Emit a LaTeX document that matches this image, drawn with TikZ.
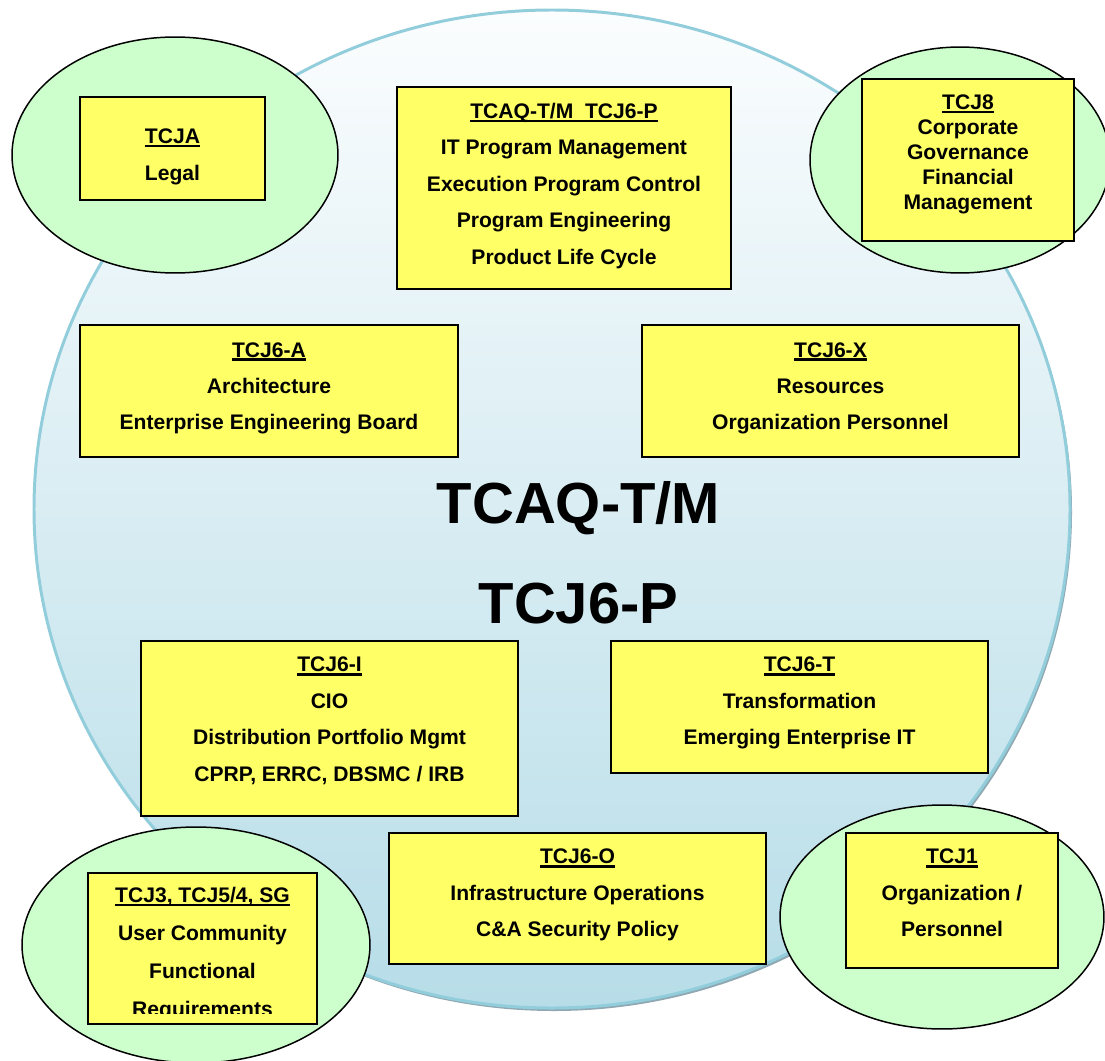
\documentclass[tikz,border=0pt]{standalone}
\usepackage{fontspec}
\setmainfont{Liberation Sans}
\usetikzlibrary{
  shapes.geometric,
  positioning
}
\definecolor{boxyellow}{HTML}{FFFF66}
\definecolor{bubblegreen}{HTML}{CCFFCC}
\definecolor{hubedge}{HTML}{92CDDC}
\definecolor{hubtop}{HTML}{FBFDFE}
\definecolor{hubbottom}{HTML}{B7DDE8}
\definecolor{hubshadow}{HTML}{8FA8B2}
\newsavebox{\titlebox}
\newcommand{\unittitle}[1]{%
  \sbox{\titlebox}{#1}%
  \rlap{\rule[-2.1pt]{\wd\titlebox}{1.4pt}}\usebox{\titlebox}}
\tikzset{
  hub/.style={
    top color=hubtop,
    bottom color=hubbottom,
    draw=hubedge,
    line width=1.7pt
  },
  hub label/.style={
    anchor=base,
    font=\bfseries\fontsize{33}{40}\selectfont
  },
  office bubble/.style={
    ellipse, draw, line width=0.85pt,
    fill=bubblegreen, inner sep=0pt
  },
  unit box/.style={
    draw, line width=1.1pt,
    fill=boxyellow, inner sep=0pt
  },
  unit text/.style={
    align=center, inner sep=0pt,
    font=\bfseries\fontsize{12}{20.7}\selectfont
  }
}

\begin{document}
\begin{tikzpicture}[x=0.02cm, y=-0.02cm]
\useasboundingbox (0,0) rectangle (1105,1061);

% the hub
\fill[hubshadow] (554,512) ellipse [x radius=518, y radius=499];
\shade[hub] (552,509) ellipse [x radius=518, y radius=499];
\node[hub label] (hubname) at (578.5,523) {TCAQ-T/M};
\node[hub label] (hubcode) at (578.5,623) {TCJ6-P};

% outside offices
\node[office bubble, minimum width=6.52cm, minimum height=4.72cm] (legalbubble) at (175,155) {};
\node[office bubble, minimum width=6cm, minimum height=4.52cm] (governbubble) at (960,160) {};
\node[office bubble, minimum width=6.96cm, minimum height=4.72cm] (userbubble) at (196,945) {};
\node[office bubble, minimum width=6.48cm, minimum height=4.48cm] (personbubble) at (942,917) {};

% units
\node[unit box, minimum width=3.7cm, minimum height=2.06cm] (tcja) at (172.5,148.5) {};
\node[unit text, below=18.6pt of tcja.north] (tcjalines) {\unittitle{TCJA}\\Legal};

\node[unit box, minimum width=6.68cm, minimum height=4.04cm] (tcaq) at (564,188) {};
\node[unit text, below=9.6pt of tcaq.north] (tcaqlines)
  {\unittitle{TCAQ-T/M\ \ TCJ6-P}\\IT Program Management\\Execution Program Control\\
   Program Engineering\\Product Life Cycle};

\node[unit box, minimum width=4.24cm, minimum height=3.24cm] (tcj8) at (968,160) {};
\node[unit text, below=9.2pt of tcj8.north, font=\bfseries\fontsize{12}{14.2}\selectfont] (tcj8lines)
  {\unittitle{TCJ8}\\Corporate\\Governance\\Financial\\Management};

\node[unit box, minimum width=7.56cm, minimum height=2.64cm] (tcj6a) at (269,391) {};
\node[unit text, below=10.2pt of tcj6a.north] (tcj6alines)
  {\unittitle{TCJ6-A}\\Architecture\\Enterprise Engineering Board};

\node[unit box, minimum width=7.54cm, minimum height=2.64cm] (tcj6x) at (830.5,391) {};
\node[unit text, below=10.2pt of tcj6x.north] (tcj6xlines)
  {\unittitle{TCJ6-X}\\Resources\\Organization Personnel};

\node[unit box, minimum width=7.54cm, minimum height=3.5cm] (tcj6i) at (329.5,728.5) {};
\node[unit text, below=9.6pt of tcj6i.north] (tcj6ilines)
  {\unittitle{TCJ6-I}\\CIO\\Distribution Portfolio Mgmt\\CPRP, ERRC, DBSMC / IRB};

\node[unit box, minimum width=7.54cm, minimum height=2.64cm] (tcj6t) at (799.5,707) {};
\node[unit text, below=9.6pt of tcj6t.north] (tcj6tlines)
  {\unittitle{TCJ6-T}\\Transformation\\Emerging Enterprise IT};

\node[unit box, minimum width=7.54cm, minimum height=2.62cm] (tcj6o) at (577.5,898.5) {};
\node[unit text, below=9.6pt of tcj6o.north] (tcj6olines)
  {\unittitle{TCJ6-O}\\Infrastructure Operations\\C\&A Security Policy};

\node[unit box, minimum width=4.24cm, minimum height=2.7cm] (tcj1) at (952,900.5) {};
\node[unit text, below=9.6pt of tcj1.north] (tcj1lines)
  {\unittitle{TCJ1}\\Organization /\\Personnel};

% the last line runs past the bottom of this box and is cut off
\node[unit box, minimum width=4.58cm, minimum height=3.02cm] (tcj3) at (202.5,948.5) {};
\begin{scope}
  \clip (tcj3.north west) rectangle ([yshift=6.8pt]tcj3.south east);
  \node[unit text, below=8.6pt of tcj3.north, font=\bfseries\fontsize{12}{21.5}\selectfont] (tcj3lines)
    {\unittitle{TCJ3, TCJ5/4, SG}\\User Community\\Functional\\Requirements};
\end{scope}
\end{tikzpicture}
\end{document}
